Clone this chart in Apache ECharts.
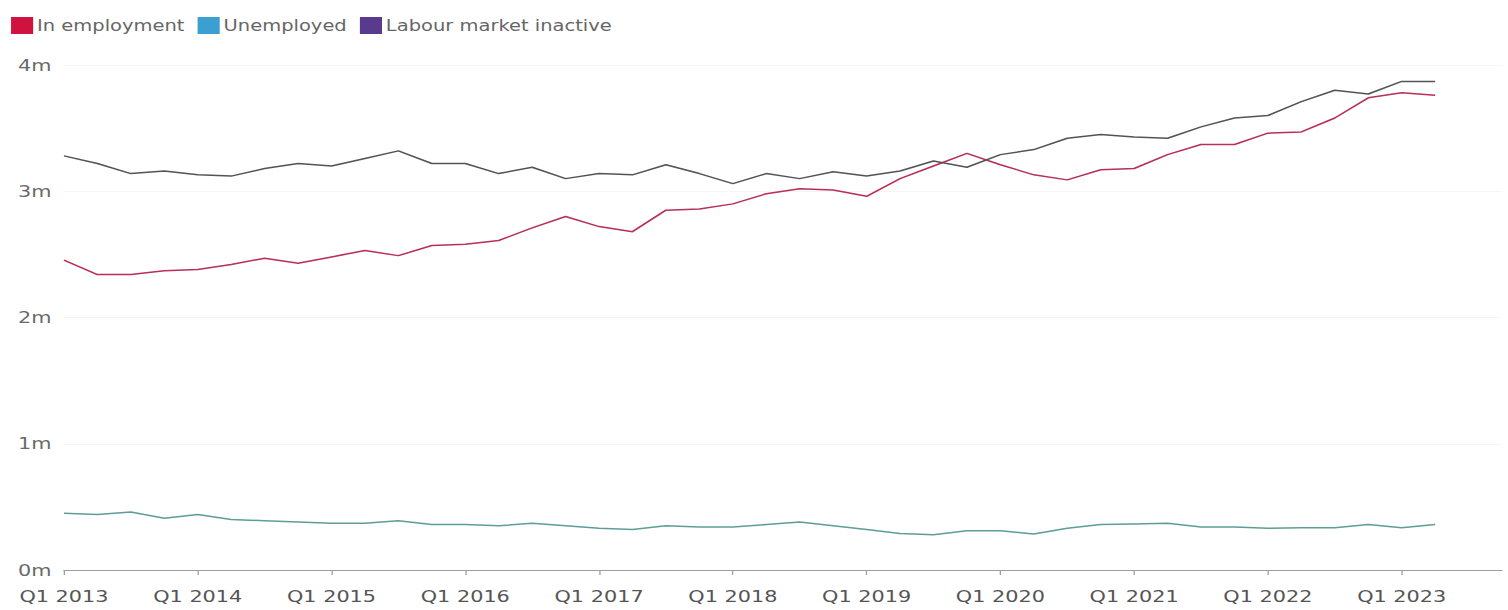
<!DOCTYPE html>
<html>
<head>
<meta charset="utf-8">
<script src="https://cdn.jsdelivr.net/npm/echarts@6/dist/echarts.min.js"></script>
<style>
html,body{margin:0;padding:0;background:#fff;}
#wrap{width:1508px;height:610px;overflow:hidden;}
#chart{width:1160px;height:610px;transform:scaleX(1.3);transform-origin:0 0;}
</style>
</head>
<body>
<div id="wrap"><div id="chart"></div></div>
<script>
const years = [2013,2014,2015,2016,2017,2018,2019,2020,2021,2022,2023];
const quarters = [];
years.forEach(y => { for (let q = 1; q <= 4; q++) quarters.push('Q' + q + ' ' + y); });

const employment = [2.455, 2.34, 2.34, 2.37, 2.38, 2.42, 2.47, 2.43, 2.48, 2.53, 2.49, 2.57,
  2.58, 2.61, 2.71, 2.80, 2.72, 2.68, 2.85, 2.86, 2.90, 2.98, 3.02, 3.01,
  2.96, 3.10, 3.20, 3.30, 3.21, 3.13, 3.09, 3.17, 3.18, 3.29, 3.37, 3.37,
  3.46, 3.47, 3.58, 3.74, 3.78, 3.76];
const unemployed = [0.45, 0.44, 0.46, 0.41, 0.44, 0.40, 0.39, 0.38, 0.37, 0.37, 0.39, 0.36,
  0.36, 0.35, 0.37, 0.35, 0.33, 0.32, 0.35, 0.34, 0.34, 0.36, 0.38, 0.35,
  0.32, 0.29, 0.28, 0.31, 0.31, 0.285, 0.33, 0.36, 0.365, 0.37, 0.34, 0.34,
  0.33, 0.335, 0.335, 0.36, 0.335, 0.36];
const inactive = [3.28, 3.22, 3.14, 3.16, 3.13, 3.12, 3.18, 3.22, 3.20, 3.26, 3.32, 3.22,
  3.22, 3.14, 3.19, 3.10, 3.14, 3.13, 3.21, 3.14, 3.06, 3.14, 3.10, 3.155,
  3.12, 3.16, 3.24, 3.19, 3.29, 3.33, 3.42, 3.45, 3.43, 3.42, 3.51, 3.58,
  3.60, 3.71, 3.80, 3.77, 3.87, 3.87];

const seriesNames = ['In employment', 'Unemployed', 'Labour market inactive'];
const legendColors = ['#d0123f', '#3aa0d2', '#5a3a8c'];
const lineColors = ['#b83058', '#5e9e96', '#55535a'];
const seriesData = [employment, unemployed, inactive];

const font = 'DejaVu Sans, Liberation Sans, sans-serif';
const chart = echarts.init(document.getElementById('chart'), null, { renderer: 'svg' });
chart.setOption({
  animation: false,
  backgroundColor: '#ffffff',
  legend: {
    left: 8.5, top: 17, padding: 0,
    icon: 'rect', itemWidth: 17, itemHeight: 17, itemGap: 10,
    textStyle: { color: '#666', fontSize: 15, fontFamily: font, padding: [0, 0, 0, -2] },
    data: seriesNames.map((n, i) => ({ name: n, itemStyle: { color: legendColors[i] } }))
  },
  grid: { left: 49.2, right: 4.6, top: 65, bottom: 40, containLabel: false },
  xAxis: {
    type: 'category',
    data: quarters,
    boundaryGap: false,
    axisLine: { lineStyle: { color: '#a0a0a0', width: 1 } },
    axisTick: { show: true, length: 5, interval: i => i % 4 === 0, lineStyle: { color: '#a0a0a0' } },
    axisLabel: { interval: i => i % 4 === 0, color: '#555', fontSize: 16, fontFamily: font, margin: 18 },
    splitLine: { show: false }
  },
  yAxis: {
    type: 'value', min: 0, max: 4, interval: 1,
    axisLine: { show: false }, axisTick: { show: false },
    axisLabel: { formatter: v => v + 'm', color: '#6a6a6a', fontSize: 16, fontFamily: font, align: 'left', margin: 35.4 },
    splitLine: { show: true, lineStyle: { color: '#f5f5f5', width: 1 } }
  },
  series: seriesNames.map((n, i) => ({
    name: n, type: 'line', data: seriesData[i], showSymbol: false, symbol: 'none',
    itemStyle: { color: legendColors[i] },
    lineStyle: { color: lineColors[i], width: 1.5 }
  }))
});
</script>
</body>
</html>
